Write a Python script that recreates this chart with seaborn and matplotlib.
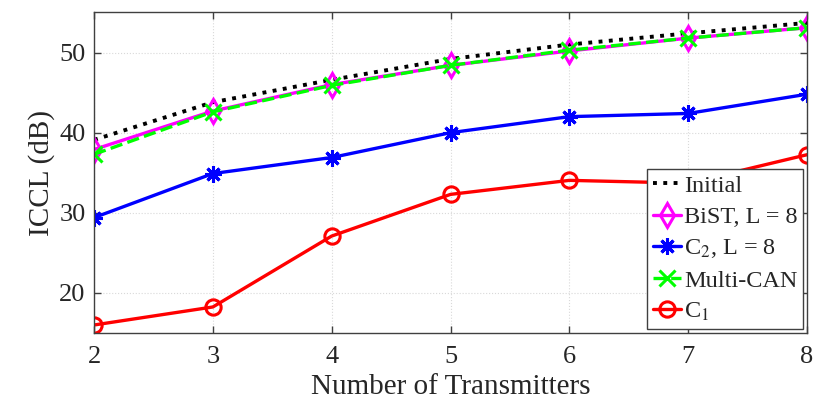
import numpy as np
import pandas as pd
import matplotlib
matplotlib.use('Agg')
import matplotlib.pyplot as plt
import seaborn as sns

# values
transmitters = [2, 3, 4, 5, 6, 7, 8]
initial = [39.1, 43.8, 46.6, 49.2, 51.0, 52.4, 53.7]
bist = [37.9, 42.7, 46.0, 48.4, 50.2, 51.8, 53.1]
c2 = [29.4, 34.9, 36.9, 40.0, 42.0, 42.4, 44.8]
multi_can = [37.3, 42.6, 45.9, 48.4, 50.3, 51.8, 53.1]
c1 = [16.0, 18.25, 27.1, 32.3, 34.05, 33.7, 37.25]

sns.set_style('ticks')
plt.rcParams['font.family'] = ['Liberation Serif', 'DejaVu Serif']
plt.rcParams['mathtext.fontset'] = 'stix'

fig = plt.figure(figsize=(8.3, 4.16), dpi=100)
ax = fig.add_axes([0.1133, 0.1995, 0.8590, 0.7705])

# MATLAB-like asterisk: 8 spokes
asterisk = (8, 2, 0)

# style of each series: (label, values, colour, linestyle, marker, size)
series = [
    ('Initial', initial, 'black', ':', None, 0),
    ('BiST, L = 8', bist, '#ff00ff', '-', 'd', 12),
    ('C$_2$, L = 8', c2, '#0000ff', '-', asterisk, 12),
    ('Multi-CAN', multi_can, '#00ff00', '--', 'x', 12),
    ('C$_1$', c1, '#ff0000', '-', 'o', 11),
]

for label, values, color, ls, marker, size in series:
    df = pd.DataFrame({'x': transmitters, 'y': values})
    kw = dict(marker=marker, markersize=size,
              markerfacecolor='none' if marker in ('o', 'd') else color,
              markeredgecolor=color, markeredgewidth=2.2) if marker else {}
    sns.lineplot(data=df, x='x', y='y', ax=ax, color=color, linestyle=ls,
                 linewidth=2.8 if ls == ':' else 2.4, label=label, **kw)

ax.set_xlim(2, 8)
ax.set_ylim(15, 55)
ax.set_xticks(transmitters)
ax.set_yticks([20, 30, 40, 50])
ax.grid(True, color='#d9d9d9', linestyle=':', linewidth=0.8)

for side in ['top', 'right', 'bottom', 'left']:
    ax.spines[side].set_visible(True)
    ax.spines[side].set_color('#404040')
    ax.spines[side].set_linewidth(1.0)
ax.tick_params(direction='in', length=5, width=1, color='#404040',
               top=True, right=True, labelsize=19, labelcolor='#262626')
ax.tick_params(axis='x', pad=9)
ax.tick_params(axis='y', pad=6)

ax.set_xlabel('Number of Transmitters', fontsize=21, color='#262626', labelpad=5)
ax.set_ylabel('ICCL (dB)', fontsize=21, color='#262626', labelpad=3)

leg = ax.legend(loc='lower right', fontsize=17.5, handlelength=1.15,
                handletextpad=0.1, labelspacing=0.38, borderpad=0.25,
                borderaxespad=0.15, fancybox=False, framealpha=1,
                edgecolor='#404040')
leg.get_frame().set_linewidth(1.0)

fig.savefig('out.png', dpi=100)
